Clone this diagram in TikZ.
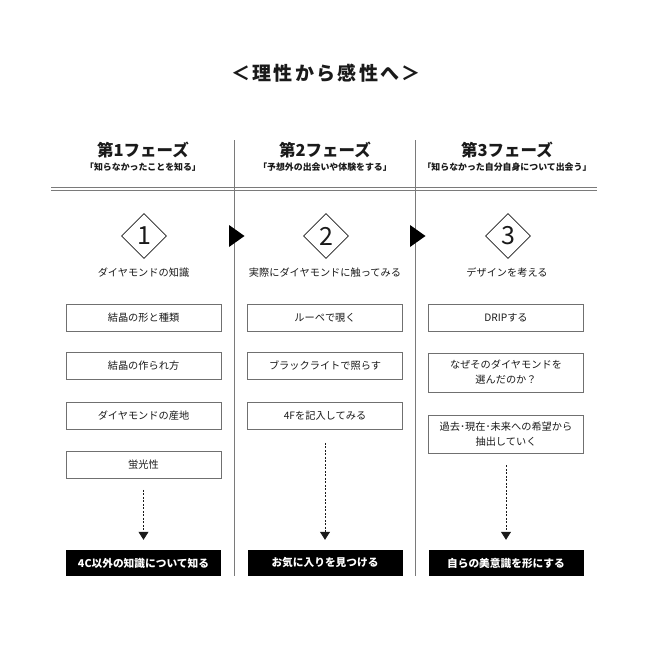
\documentclass[tikz,border=0pt]{standalone}
\usepackage{fontspec}
\setmainfont{Noto Sans CJK JP}
\usetikzlibrary{shapes.geometric,arrows.meta}
\definecolor{rule}{HTML}{7A7A7A}
\definecolor{boxline}{HTML}{707070}
\definecolor{ink}{HTML}{1A1A1A}
\tikzset{
  titletext/.style={font=\fontsize{19}{22}\selectfont\bfseries\addfontfeatures{LetterSpace=12}, text=ink},
  phasetext/.style={font=\fontsize{16.5}{19}\selectfont\bfseries, text=ink},
  subtext/.style={font=\fontsize{8.9}{11}\selectfont\bfseries, text=ink},
  numdiamond/.style={draw=ink, line width=0.7pt, shape=diamond, aspect=1, minimum width=45pt, minimum height=45pt, inner sep=0pt, font=\fontsize{25}{28}\selectfont, text=ink},
  steplabel/.style={font=\fontsize{10.2}{12}\selectfont, text=ink},
  itembox/.style={draw=boxline, line width=0.8pt, minimum width=155pt, minimum height=27pt, inner sep=0pt, align=center, font=\fontsize{10.2}{15}\selectfont, text=ink},
  resultbox/.style={fill=black, minimum width=155pt, minimum height=26pt, inner sep=0pt, font=\fontsize{10.7}{12}\selectfont\bfseries, text=white},
  flowarrow/.style={draw=ink, line width=0.8pt, dash pattern=on 2pt off 1.5pt, -{Triangle[width=10pt,length=8pt,sep=0pt]}, shorten <=11pt, shorten >=10pt},
  sepline/.style={draw=rule, line width=0.9pt},
  pointer/.style={fill=black}
}
\begin{document}
\begin{tikzpicture}[x=1pt,y=-1pt]
\useasboundingbox (0,0) rectangle (650,650);
% title
\node[titletext] (title) at (326,73) {＜理性から感性へ＞};
% separators
\draw[sepline] (234,140) -- (234,576);
\draw[sepline] (415,140) -- (415,576);
\draw[sepline] (51,187) -- (597,187);
\draw[sepline] (51,190.5) -- (597,190.5);
% phase headers
\node[phasetext] (p1) at (143,150) {第1フェーズ};
\node[subtext] (s1) at (143,167) {「知らなかったことを知る」};
\node[phasetext] (p2) at (325,150) {第2フェーズ};
\node[subtext] (s2) at (325,167) {「予想外の出会いや体験をする」};
\node[phasetext] (p3) at (507,150) {第3フェーズ};
\node[subtext] (s3) at (507,167) {「知らなかった自分自身について出会う」};
% diamonds
\node[numdiamond] (d1) at (144,236) {1};
\node[numdiamond] (d2) at (326,236) {2};
\node[numdiamond] (d3) at (508,236) {3};
% pointers
\fill[pointer] (229,225) -- (244.5,236) -- (229,247) -- cycle;
\fill[pointer] (410,225) -- (425.5,236) -- (410,247) -- cycle;
% step labels
\node[steplabel] (l1) at (143.5,273) {ダイヤモンドの知識};
\node[steplabel] (l2) at (325,273) {実際にダイヤモンドに触ってみる};
\node[steplabel] (l3) at (507,273) {デザインを考える};
% column 1
\node[itembox] (a1) at (143.5,317.5) {結晶の形と種類};
\node[itembox] (a2) at (143.5,366) {結晶の作られ方};
\node[itembox] (a3) at (143.5,416) {ダイヤモンドの産地};
\node[itembox] (a4) at (143.5,465) {蛍光性};
\node[resultbox] (r1) at (143.5,563) {4C以外の知識について知る};
% column 2
\node[itembox] (b1) at (325,317.5) {ルーペで覗く};
\node[itembox] (b2) at (325,366) {ブラックライトで照らす};
\node[itembox] (b3) at (325,416) {4Fを記入してみる};
\node[resultbox] (r2) at (325,563) {お気に入りを見つける};
% column 3
\node[itembox] (c1) at (506,317.5) {DRIPする};
\node[itembox, minimum height=39pt] (c2) at (506,372.5) {なぜそのダイヤモンドを\\選んだのか？};
\node[itembox, minimum height=38pt] (c3) at (506,434) {過去･現在･未来への希望から\\抽出していく};
\node[resultbox] (r3) at (506,563) {自らの美意識を形にする};
% arrows
\draw[flowarrow] (a4.south) -- (r1.north);
\draw[flowarrow, shorten <=13pt] (b3.south) -- (r2.north);
\draw[flowarrow, shorten <=12pt] (c3.south) -- (r3.north);
\end{tikzpicture}
\end{document}
